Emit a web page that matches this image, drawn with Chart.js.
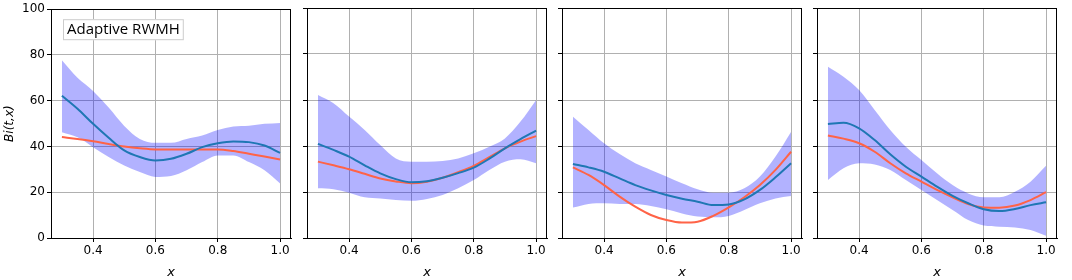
<!DOCTYPE html>
<html>
<head>
<meta charset="utf-8">
<script src="https://cdn.jsdelivr.net/npm/chart.js@4/dist/chart.umd.min.js"></script>
<style>
  body { margin: 0; background: #fff; }
  #wrap { position: relative; width: 1072px; height: 280px; }
  .panel { position: absolute; top: 0; width: 296px; height: 280px; }
</style>
</head>
<body>
<div id="wrap">
  <div class="panel" style="left:0px"><canvas id="c0"></canvas></div>
  <div class="panel" style="left:256px"><canvas id="c1"></canvas></div>
  <div class="panel" style="left:511px"><canvas id="c2"></canvas></div>
  <div class="panel" style="left:766px"><canvas id="c3"></canvas></div>
</div>
<script>
const xs = [0.30, 0.35, 0.40, 0.45, 0.50, 0.55, 0.60, 0.65, 0.70, 0.75, 0.80, 0.85, 0.90, 0.95, 1.00];
const xTicks = [0.4, 0.6, 0.8, 1.0];
const yTicks = [0, 20, 40, 60, 80, 100];

// panel 1
const mean1  = [62.2, 56.5, 49.9, 43.8, 38.3, 35.4, 33.9, 34.6, 36.8, 39.7, 41.4, 42.2, 41.9, 40.4, 37.2];
const true1  = [44.1, 43.3, 42.3, 41.1, 40.0, 39.2, 38.7, 38.7, 38.7, 38.7, 38.7, 38.0, 36.8, 35.6, 34.3];
const lower1 = [46.2, 44.0, 39.7, 35.4, 31.7, 28.8, 26.7, 27.1, 29.6, 33.2, 36.1, 36.1, 33.2, 29.6, 23.8];
const upper1 = [77.7, 70.0, 64.3, 57.0, 49.0, 43.3, 41.6, 41.6, 43.3, 44.8, 47.2, 48.7, 49.1, 49.9, 50.3];
// panel 2
const mean2  = [40.9, 38.3, 35.4, 31.6, 28.1, 25.6, 24.2, 24.7, 26.2, 28.2, 30.6, 34.5, 39.0, 43.0, 46.7];
const true2  = [33.2, 31.6, 29.9, 27.9, 25.9, 24.6, 23.8, 24.5, 26.2, 28.6, 31.4, 35.2, 39.0, 41.9, 44.3];
const lower2 = [21.6, 21.2, 19.7, 17.7, 17.2, 16.5, 16.2, 17.0, 18.7, 21.6, 25.2, 29.6, 33.2, 34.2, 32.5];
const upper2 = [62.2, 58.6, 52.8, 47.0, 40.4, 34.6, 33.2, 33.2, 33.5, 34.6, 36.8, 39.7, 43.3, 50.6, 60.0];
// panel 3
const mean3  = [32.2, 30.7, 28.8, 25.9, 23.0, 20.7, 18.7, 17.1, 15.8, 14.3, 14.6, 16.8, 20.9, 26.4, 32.5];
const true3  = [30.7, 27.4, 23.0, 18.0, 13.6, 10.0, 7.8, 6.7, 7.1, 9.6, 13.3, 17.7, 23.0, 29.6, 37.5];
const lower3 = [13.2, 14.8, 15.1, 14.8, 14.8, 13.9, 12.5, 10.7, 9.3, 9.0, 9.6, 12.2, 15.1, 17.2, 18.3];
const upper3 = [52.8, 47.0, 41.2, 36.5, 32.5, 29.6, 26.7, 23.8, 21.2, 19.7, 19.7, 21.6, 26.7, 35.4, 46.2];
// panel 4
const mean4  = [49.6, 50.1, 47.7, 42.6, 36.4, 31.0, 26.7, 22.3, 18.3, 15.1, 12.5, 11.7, 12.6, 14.3, 15.5];
const true4  = [44.6, 43.2, 41.2, 37.5, 32.5, 28.1, 24.5, 20.9, 17.7, 14.8, 13.3, 13.2, 14.1, 16.5, 19.9];
const lower4 = [25.2, 30.3, 32.5, 32.0, 29.6, 25.2, 20.9, 16.5, 12.2, 7.8, 5.4, 4.9, 4.6, 3.5, 1.0];
const upper4 = [74.5, 70.1, 64.3, 55.7, 47.0, 39.7, 33.9, 28.1, 23.0, 19.4, 17.7, 17.7, 20.1, 24.5, 31.4];

const panels = [
    { mean: mean1, truth: true1, lower: lower1, upper: upper1 },
    { mean: mean2, truth: true2, lower: lower2, upper: upper2 },
    { mean: mean3, truth: true3, lower: lower3, upper: upper3 },
    { mean: mean4, truth: true4, lower: lower4, upper: upper4 }
];

const pts = arr => arr.map((v, i) => ({ x: xs[i], y: v }));

// black frame round the plot area (matplotlib spines)
const framePlugin = {
    id: 'frame',
    afterDraw(chart) {
        const a = chart.chartArea, ctx = chart.ctx;
        ctx.save();
        ctx.strokeStyle = '#000';
        ctx.lineWidth = 1;
        ctx.strokeRect(Math.round(a.left) + 0.5, Math.round(a.top) + 0.5,
            Math.round(a.right - a.left) - 1, Math.round(a.bottom - a.top));
        ctx.restore();
    }
};

// text box in the first panel
const labelPlugin = {
    id: 'labelBox',
    afterDraw(chart, args, opts) {
        if (!opts.text) return;
        const ctx = chart.ctx;
        const x = chart.chartArea.left + 12, y = chart.chartArea.top + 10;
        ctx.save();
        ctx.font = '15px "Open Sans"';
        const w = ctx.measureText(opts.text).width;
        ctx.fillStyle = '#fff';
        ctx.fillRect(x, y, w + 8, 21);
        ctx.strokeStyle = '#cccccc';
        ctx.lineWidth = 1;
        ctx.strokeRect(x + 0.5, y + 0.5, w + 7, 20);
        ctx.fillStyle = '#000';
        ctx.textBaseline = 'middle';
        ctx.fillText(opts.text, x + 4, y + 11);
        ctx.restore();
    }
};

panels.forEach((p, i) => {
    const ctx = document.getElementById('c' + i);
    new Chart(ctx, {
        type: 'line',
        data: {
            datasets: [
                { data: pts(p.lower), borderWidth: 0, pointRadius: 0, fill: false, order: 3,
                  cubicInterpolationMode: 'monotone' },
                { data: pts(p.upper), borderWidth: 0, pointRadius: 0, fill: '-1', order: 2,
                  backgroundColor: 'rgba(0, 0, 255, 0.3)', cubicInterpolationMode: 'monotone' },
                { data: pts(p.truth), borderColor: '#ff6347', borderWidth: 2, pointRadius: 0, order: 1,
                  cubicInterpolationMode: 'monotone' },
                { data: pts(p.mean), borderColor: '#1f77b4', borderWidth: 2, pointRadius: 0, order: 0,
                  cubicInterpolationMode: 'monotone' }
            ]
        },
        options: {
            responsive: true,
            maintainAspectRatio: false,
            animation: false,
            layout: { padding: { top: 8, right: 5, bottom: 0, left: 3 } },
            scales: {
                x: {
                    type: 'linear',
                    min: 0.265,
                    max: 1.035,
                    afterBuildTicks: s => { s.ticks = xTicks.map(v => ({ value: v })); },
                    afterFit: s => { s.height = 42; },
                    grid: { color: '#b0b0b0', tickColor: '#000', tickLength: 4 },
                    border: { display: true, color: '#000' },
                    ticks: {
                        color: '#000',
                        font: { family: 'DejaVu Sans', size: 12 },
                        padding: 2,
                        maxRotation: 0,
                        callback: v => v.toFixed(1)
                    },
                    title: {
                        display: true, text: 'x', color: '#000',
                        font: { family: 'DejaVu Sans', size: 13, style: 'italic' },
                        padding: { top: 0, bottom: 0 }
                    }
                },
                y: {
                    min: 0,
                    max: 100,
                    afterBuildTicks: s => { s.ticks = yTicks.map(v => ({ value: v })); },
                    afterFit: s => { s.width = 48; },
                    grid: { color: '#b0b0b0', tickColor: '#000', tickLength: 4 },
                    border: { display: true, color: '#000' },
                    ticks: {
                        display: i === 0,
                        color: '#000',
                        font: { family: 'DejaVu Sans', size: 12 },
                        padding: 2
                    },
                    title: {
                        display: i === 0, text: 'Bi(t,x)', color: '#000',
                        font: { family: 'DejaVu Sans', size: 12, style: 'italic' },
                        padding: { top: 0, bottom: 0 }
                    }
                }
            },
            plugins: {
                legend: { display: false },
                tooltip: { enabled: false },
                labelBox: { text: i === 0 ? 'Adaptive RWMH' : '' }
            }
        },
        plugins: [framePlugin, labelPlugin]
    });
});
</script>
</body>
</html>
